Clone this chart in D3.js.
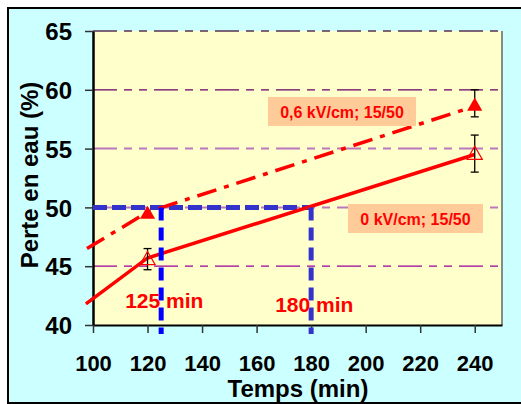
<!DOCTYPE html>
<html>
<head>
<meta charset="utf-8">
<script src="https://cdn.jsdelivr.net/npm/d3@7"></script>
<style>
  body { margin: 0; background: #fff; }
  text { font-family: Arial, "Liberation Sans", sans-serif; font-weight: bold; }
</style>
</head>
<body>
<script>
// measured points (Temps in min, Perte en eau in %)
var times = [120, 240];
var perte0 = [45.5, 54.45];
var err0Low = [44.7, 53.0];
var err0High = [46.5, 56.15];
var perte06 = [49.4, 58.6];
var err06Low = [null, 57.7];
var err06High = [null, 60.0];

// fitted curves
var fit0T = [97.4, 120, 240];
var fit0V = [41.8, 45.7, 54.5];
var fit06T = [97.8, 120, 240];
var fit06V = [46.5, 49.6, 58.6];

// reading of the 50 % level
var target = 50;
var readT = [125, 180];
var readLabels = ['125 min', '180 min'];

var xTicks = [100, 120, 140, 160, 180, 200, 220, 240];
var yTicks = [40, 45, 50, 55, 60, 65];

var svg = d3.select('body').append('svg')
    .attr('width', 521)
    .attr('height', 404);

svg.append('rect')
    .attr('x', 8).attr('y', 8)
    .attr('width', 600).attr('height', 395)
    .attr('fill', '#CCFFFF')
    .attr('stroke', '#000')
    .attr('stroke-width', 2);

var x = d3.scaleLinear().domain([100, 250]).range([93, 502]);
var y = d3.scaleLinear().domain([40, 65]).range([325, 31]);

svg.append('rect')
    .attr('x', x(100)).attr('y', y(65))
    .attr('width', x(250) - x(100)).attr('height', y(40) - y(65))
    .attr('fill', '#FFFFCC');

// right border of the plot
svg.append('line')
    .attr('x1', x(250)).attr('x2', x(250))
    .attr('y1', y(65)).attr('y2', y(40))
    .attr('stroke', '#666').attr('stroke-width', 1.5);

var gridColor = { 45: '#990099', 50: '#BB77BB', 55: '#BB77BB', 60: '#660066', 65: '#553355' };
var gridWidth = { 45: 1.3, 50: 2, 55: 2, 60: 1.3, 65: 1.3 };

svg.append('g').selectAll('line')
    .data(yTicks.filter(function (d) { return d > 40; }))
    .enter().append('line')
    .attr('x1', x(100)).attr('x2', x(250))
    .attr('y1', function (d) { return y(d); })
    .attr('y2', function (d) { return y(d); })
    .attr('stroke', function (d) { return gridColor[d]; })
    .attr('stroke-width', function (d) { return gridWidth[d]; })
    .attr('stroke-dasharray', '24,7,8,7,8,7');

// axes
var yAxis = svg.append('g')
    .attr('transform', 'translate(' + x(100) + ',0)')
    .call(d3.axisLeft(y).tickValues(yTicks).tickSize(8).tickPadding(13).tickSizeOuter(0));
yAxis.select('.domain').attr('stroke', '#000').attr('stroke-width', 2.5);
yAxis.selectAll('.tick line').attr('stroke', '#333').attr('stroke-width', 1.5);
yAxis.selectAll('.tick text')
    .attr('fill', '#000')
    .style('font-size', '24px')
    .attr('dy', '0.36em');

var xAxis = svg.append('g')
    .attr('transform', 'translate(0,' + y(40) + ')')
    .call(d3.axisBottom(x).tickValues(xTicks).tickSize(8).tickPadding(22).tickSizeOuter(0));
xAxis.select('.domain').attr('stroke', '#000').attr('stroke-width', 2);
xAxis.selectAll('.tick line').attr('stroke', '#333').attr('stroke-width', 1.5);
xAxis.selectAll('.tick text')
    .attr('fill', '#000')
    .style('font-size', '22px');

svg.append('text')
    .attr('x', 298)
    .attr('y', 397)
    .style('text-anchor', 'middle')
    .style('font-size', '24px')
    .text('Temps (min)');

svg.append('text')
    .attr('transform', 'translate(38,175) rotate(-90)')
    .style('text-anchor', 'middle')
    .style('font-size', '24px')
    .text('Perte en eau (%)');

// blue reading lines
svg.append('line')
    .attr('x1', x(100)).attr('x2', x(readT[1]))
    .attr('y1', y(target)).attr('y2', y(target))
    .attr('stroke', '#3333CC').attr('stroke-width', 5)
    .attr('stroke-dasharray', '14,5');

var line = d3.line()
    .x(function (d) { return x(d[0]); })
    .y(function (d) { return y(d[1]); });

svg.append('path')
    .attr('d', line(d3.zip(fit06T, fit06V)))
    .attr('fill', 'none')
    .attr('stroke', '#FF0000')
    .attr('stroke-width', 3.5)
    .attr('stroke-dasharray', '20,8,5,8');

svg.append('path')
    .attr('d', line(d3.zip(fit0T, fit0V)))
    .attr('fill', 'none')
    .attr('stroke', '#FF0000')
    .attr('stroke-width', 3.5);

svg.append('g').selectAll('line')
    .data(readT)
    .enter().append('line')
    .attr('x1', function (d) { return x(d); })
    .attr('x2', function (d) { return x(d); })
    .attr('y1', y(target))
    .attr('y2', y(40) + 9)
    .attr('stroke', function (d, i) { return i === 0 ? '#0000FF' : '#3333CC'; })
    .attr('stroke-width', 5)
    .attr('stroke-dasharray', '13,7');

svg.append('g').selectAll('text')
    .data(readT)
    .enter().append('text')
    .attr('x', function (d) { return x(d) - 36; })
    .attr('y', function (d, i) { return i === 0 ? 308 : 312; })
    .attr('fill', '#FF0000')
    .style('font-size', '21px')
    .text(function (d, i) { return readLabels[i]; });

// error bars
function errorBars(lo, hi) {
    var g = svg.append('g').attr('stroke', '#000').attr('stroke-width', 1.3);
    times.forEach(function (t, i) {
        if (lo[i] === null) return;
        g.append('line')
            .attr('x1', x(t)).attr('x2', x(t))
            .attr('y1', y(lo[i])).attr('y2', y(hi[i]));
        [lo[i], hi[i]].forEach(function (v) {
            g.append('line')
                .attr('x1', x(t) - 4).attr('x2', x(t) + 4)
                .attr('y1', y(v)).attr('y2', y(v));
        });
    });
}
errorBars(err0Low, err0High);
errorBars(err06Low, err06High);

var tri = d3.symbol().type(d3.symbolTriangle).size(100);

svg.append('g').selectAll('path')
    .data(d3.zip(times, perte0))
    .enter().append('path')
    .attr('transform', function (d) { return 'translate(' + x(d[0]) + ',' + y(d[1]) + ')'; })
    .attr('d', tri)
    .attr('fill', 'none')
    .attr('stroke', '#FF0000')
    .attr('stroke-width', 1.2);

svg.append('g').selectAll('path')
    .data(d3.zip(times, perte06))
    .enter().append('path')
    .attr('transform', function (d) { return 'translate(' + x(d[0]) + ',' + y(d[1]) + ')'; })
    .attr('d', tri)
    .attr('fill', '#FF0000');

// series labels
function tag(cx, cy, w, h, label) {
    svg.append('rect')
        .attr('x', cx - w / 2).attr('y', cy - h / 2)
        .attr('width', w).attr('height', h)
        .attr('fill', '#FFCC99');
    svg.append('text')
        .attr('x', cx).attr('y', cy + 6)
        .attr('fill', '#FF0000')
        .style('text-anchor', 'middle')
        .style('font-size', '16px')
        .text(label);
}
tag(342, 111.5, 148, 29, '0,6 kV/cm; 15/50');
tag(415.5, 218.5, 135, 29, '0 kV/cm; 15/50');
</script>
</body>
</html>
